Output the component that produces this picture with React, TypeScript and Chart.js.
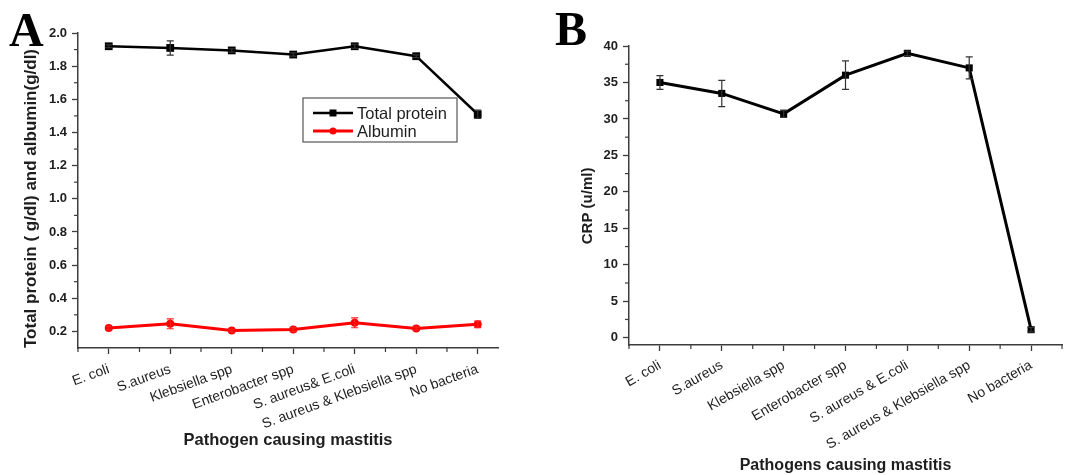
import React, { useEffect, useRef } from 'react';
import { Chart, registerables } from 'chart.js';

Chart.register(...registerables);

const FONT = '"Liberation Sans", Arial, Helvetica, sans-serif';
const INK = '#1e1e1e';
const AXIS = '#3c3c3c';

// ---------- Panel A data ----------
const categoriesA = [
  'E. coli',
  'S.aureus',
  'Klebsiella spp',
  'Enterobacter spp',
  'S. aureus& E.coli',
  'S. aureus & Klebsiella spp',
  'No bacteria',
];
const totalProtein = [1.92, 1.91, 1.895, 1.87, 1.92, 1.86, 1.51];
const totalProteinErr = [0.008, 0.043, 0.01, 0.01, 0.012, 0.008, 0.025];
const albumin = [0.22, 0.246, 0.205, 0.211, 0.252, 0.217, 0.243];
const albuminErr = [0.01, 0.03, 0.008, 0.012, 0.03, 0.01, 0.02];

// ---------- Panel B data ----------
const categoriesB = [
  'E. coli',
  'S.aureus',
  'Klebsiella spp',
  'Enterobacter spp',
  'S. aureus & E.coli',
  'S. aureus & Klebsiella spp',
  'No bacteria',
];
const crp = [35, 33.5, 30.7, 36, 39, 37, 1.1];
const crpErr = [0.95, 1.8, 0.5, 1.95, 0.3, 1.5, 0.3];

const toPoints = (vals: number[]) => vals.map((v, i) => ({ x: i + 1, y: v }));

const errorBarPlugin = {
  id: 'errorBars',
  afterDatasetsDraw(chart: any) {
    const ctx = chart.ctx;
    const xs = chart.scales.x;
    const ys = chart.scales.y;
    chart.data.datasets.forEach((ds: any) => {
      const errs: number[] | undefined = ds.errors;
      if (!errs) return;
      ctx.save();
      ctx.strokeStyle = ds.errorColor || ds.borderColor;
      ctx.lineWidth = 1.2;
      ds.data.forEach((p: any, j: number) => {
        const e = errs[j];
        if (!e) return;
        const x = xs.getPixelForValue(p.x);
        const yTop = ys.getPixelForValue(p.y + e);
        const yBot = ys.getPixelForValue(p.y - e);
        ctx.beginPath();
        ctx.moveTo(x, yTop);
        ctx.lineTo(x, yBot);
        ctx.moveTo(x - 3.5, yTop);
        ctx.lineTo(x + 3.5, yTop);
        ctx.moveTo(x - 3.5, yBot);
        ctx.lineTo(x + 3.5, yBot);
        ctx.stroke();
      });
      ctx.restore();
    });
  },
};

const minorTicksPlugin = {
  id: 'minorTicks',
  afterDraw(chart: any, _args: any, opts: any) {
    if (!opts || !opts.xMinor) return;
    const ctx = chart.ctx;
    const xs = chart.scales.x;
    const ys = chart.scales.y;
    const len = opts.length ?? 4;
    ctx.save();
    ctx.strokeStyle = AXIS;
    ctx.lineWidth = 1.2;
    const isMajor = (v: number, step: number) => Math.abs(v / step - Math.round(v / step)) < 1e-6;
    for (let k = Math.ceil(xs.min / opts.xMinor - 1e-9); k * opts.xMinor <= xs.max + 1e-9; k++) {
      const v = k * opts.xMinor;
      if (isMajor(v, opts.xMajor)) continue;
      const px = xs.getPixelForValue(v);
      ctx.beginPath();
      ctx.moveTo(px, ys.bottom);
      ctx.lineTo(px, ys.bottom + len);
      ctx.stroke();
    }
    for (let k = Math.ceil(ys.min / opts.yMinor - 1e-9); k * opts.yMinor <= ys.max + 1e-9; k++) {
      const v = k * opts.yMinor;
      if (v <= ys.min + 1e-9) continue;
      if (isMajor(v, opts.yMajor)) continue;
      const py = ys.getPixelForValue(v);
      ctx.beginPath();
      ctx.moveTo(xs.left, py);
      ctx.lineTo(xs.left - len, py);
      ctx.stroke();
    }
    ctx.restore();
  },
};

const boxLegendPlugin = {
  id: 'boxLegend',
  afterDraw(chart: any, _args: any, opts: any) {
    if (!opts || !opts.show) return;
    const ctx = chart.ctx;
    const { x, y, w, h } = opts;
    ctx.save();
    ctx.strokeStyle = '#555';
    ctx.lineWidth = 1.2;
    ctx.strokeRect(x, y, w, h);
    chart.data.datasets.forEach((ds: any, i: number) => {
      const cy = y + 15 + i * 18;
      ctx.strokeStyle = ds.borderColor;
      ctx.fillStyle = ds.borderColor;
      ctx.lineWidth = ds.borderWidth;
      ctx.beginPath();
      ctx.moveTo(x + 10, cy);
      ctx.lineTo(x + 50, cy);
      ctx.stroke();
      const mx = x + 30;
      if (ds.pointStyle === 'rect') {
        ctx.fillRect(mx - 3.5, cy - 3.5, 7, 7);
      } else {
        ctx.beginPath();
        ctx.arc(mx, cy, 3.5, 0, Math.PI * 2);
        ctx.fill();
      }
      ctx.fillStyle = INK;
      ctx.font = `16.5px ${FONT}`;
      ctx.textBaseline = 'middle';
      ctx.textAlign = 'left';
      ctx.fillText(ds.label, x + 54, cy + 1);
    });
    ctx.restore();
  },
};

function axisCommon() {
  return {
    border: { display: true, color: AXIS, width: 1.5 },
    grid: {
      display: true,
      drawOnChartArea: false,
      drawTicks: true,
      tickLength: 6,
      tickWidth: 1.3,
      tickColor: AXIS,
      color: AXIS,
    },
  };
}

function categoryTicks(categories: string[]) {
  return (s: any) => {
    s.ticks = categories.map((_, i) => ({ value: i + 1 }));
  };
}

function PanelChart({ build, width, height }: { build: () => any; width: number; height: number }) {
  const ref = useRef<HTMLCanvasElement | null>(null);
  useEffect(() => {
    if (!ref.current) return;
    const chart = new Chart(ref.current, build());
    return () => chart.destroy();
  }, []);
  return <canvas ref={ref} width={width} height={height} style={{ display: 'block', width, height }} />;
}

function buildA() {
  return {
    type: 'line',
    data: {
      datasets: [
        {
          label: 'Total protein',
          data: toPoints(totalProtein),
          borderColor: '#000000',
          backgroundColor: '#000000',
          borderWidth: 2.5,
          pointStyle: 'rect',
          pointRadius: 5.5,
          pointBorderWidth: 0,
          errors: totalProteinErr,
          errorColor: '#333333',
        },
        {
          label: 'Albumin',
          data: toPoints(albumin),
          borderColor: '#ff0000',
          backgroundColor: '#ff0000',
          borderWidth: 3,
          pointStyle: 'circle',
          pointRadius: 4,
          pointBorderWidth: 0,
          errors: albuminErr,
          errorColor: '#ff2020',
        },
      ],
    },
    options: {
      animation: false,
      responsive: false,
      layout: { padding: { left: 0, top: 33, right: 37, bottom: 0 } },
      plugins: {
        legend: { display: false },
        tooltip: { enabled: false },
        boxLegend: { show: true, x: 303, y: 98, w: 154, h: 44 },
        minorTicks: { xMinor: 0.5, xMajor: 1, yMinor: 0.1, yMajor: 0.2, length: 4 },
      },
      scales: {
        x: {
          type: 'linear',
          min: 0.5,
          max: 7.33,
          afterBuildTicks: categoryTicks(categoriesA),
          afterFit: (s: any) => {
            s.height = 127;
          },
          ...axisCommon(),
          ticks: {
            autoSkip: false,
            minRotation: 20,
            maxRotation: 20,
            padding: 7,
            color: INK,
            font: { family: FONT, size: 14 },
            callback: (v: number) => categoriesA[Math.round(v) - 1] ?? '',
          },
          title: {
            display: true,
            text: 'Pathogen causing mastitis',
            color: INK,
            font: { family: FONT, size: 16.5, weight: 'bold' },
            padding: { top: 0, bottom: 25 },
          },
        },
        y: {
          type: 'linear',
          min: 0.1,
          max: 2.0,
          afterFit: (s: any) => {
            s.width = 78;
          },
          ...axisCommon(),
          ticks: {
            stepSize: 0.2,
            includeBounds: false,
            padding: 5,
            color: INK,
            font: { family: FONT, size: 13, weight: 'bold' },
            callback: (v: number) => Number(v).toFixed(1),
          },
          title: {
            display: true,
            align: 'start',
            text: 'Total protein ( g/dl) and albumin(g/dl)',
            color: INK,
            font: { family: FONT, size: 17, weight: 'bold' },
            padding: { top: 21, bottom: 0 },
          },
        },
      },
    },
    plugins: [errorBarPlugin, minorTicksPlugin, boxLegendPlugin],
  };
}

function buildB() {
  return {
    type: 'line',
    data: {
      datasets: [
        {
          label: 'CRP',
          data: toPoints(crp),
          borderColor: '#000000',
          backgroundColor: '#000000',
          borderWidth: 3,
          pointStyle: 'rect',
          pointRadius: 5,
          pointBorderWidth: 0,
          errors: crpErr,
          errorColor: '#333333',
        },
      ],
    },
    options: {
      animation: false,
      responsive: false,
      layout: { padding: { left: 0, top: 46, right: 9, bottom: 0 } },
      plugins: {
        legend: { display: false },
        tooltip: { enabled: false },
        minorTicks: { xMinor: 0.5, xMajor: 1, yMinor: 2.5, yMajor: 5, length: 4 },
      },
      scales: {
        x: {
          type: 'linear',
          min: 0.5,
          max: 7.5,
          afterBuildTicks: categoryTicks(categoriesB),
          afterFit: (s: any) => {
            s.height = 130;
          },
          ...axisCommon(),
          ticks: {
            autoSkip: false,
            minRotation: 30,
            maxRotation: 30,
            padding: 6,
            color: INK,
            font: { family: FONT, size: 14 },
            callback: (v: number) => categoriesB[Math.round(v) - 1] ?? '',
          },
          title: {
            display: true,
            text: 'Pathogens causing mastitis',
            color: INK,
            font: { family: FONT, size: 16, weight: 'bold' },
            padding: { top: 0, bottom: 0 },
          },
        },
        y: {
          type: 'linear',
          min: -1,
          max: 40,
          afterFit: (s: any) => {
            s.width = 94;
          },
          ...axisCommon(),
          ticks: {
            stepSize: 5,
            includeBounds: false,
            padding: 5,
            color: INK,
            font: { family: FONT, size: 13, weight: 'bold' },
            callback: (v: number) => String(v),
          },
          title: {
            display: true,
            text: 'CRP (u/ml)     ',
            color: INK,
            font: { family: FONT, size: 15, weight: 'bold' },
            padding: { top: 44, bottom: 0 },
          },
        },
      },
    },
    plugins: [errorBarPlugin, minorTicksPlugin],
  };
}

const letterStyle: React.CSSProperties = {
  position: 'absolute',
  fontFamily: '"Liberation Serif", "Times New Roman", serif',
  fontWeight: 'bold',
  lineHeight: 1,
  color: '#000',
  margin: 0,
};

export default function App() {
  return (
    <div
      style={{
        position: 'fixed',
        left: 0,
        top: 0,
        width: 1071,
        height: 475,
        background: '#ffffff',
        overflow: 'hidden',
      }}
    >
      <div style={{ position: 'absolute', left: 0, top: 0 }}>
        <PanelChart build={buildA} width={535} height={475} />
      </div>
      <div style={{ position: 'absolute', left: 535, top: 0 }}>
        <PanelChart build={buildB} width={536} height={475} />
      </div>
      <div style={{ ...letterStyle, left: 9, top: 6, fontSize: 48 }}>A</div>
      <div style={{ ...letterStyle, left: 555, top: 5, fontSize: 48 }}>B</div>
    </div>
  );
}
